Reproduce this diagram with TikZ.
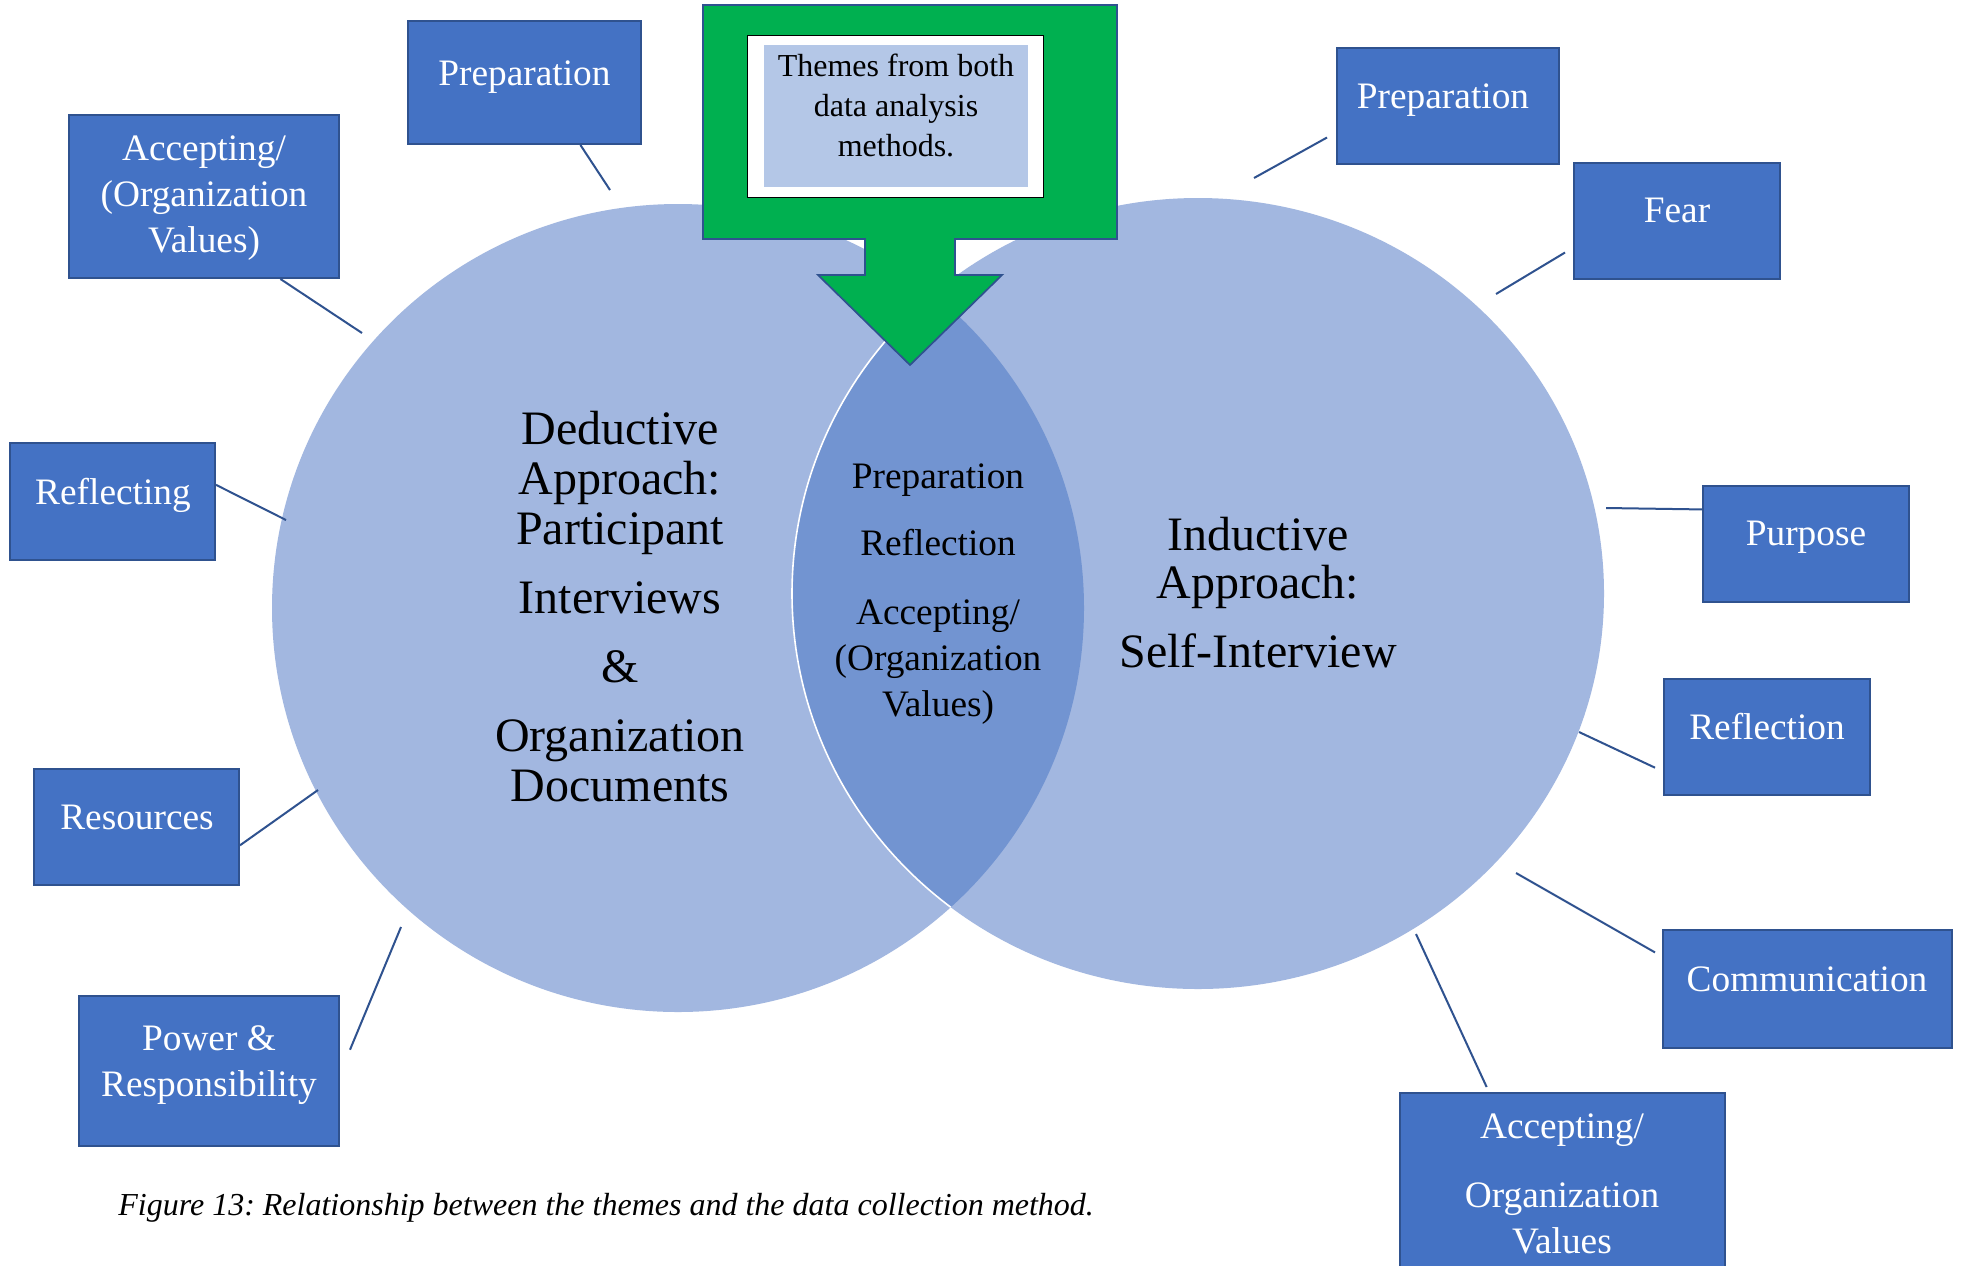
\documentclass[tikz,border=0pt]{standalone}
\usepackage{fontspec}
\setmainfont{Liberation Serif}
\usetikzlibrary{calc,fit}
\frenchspacing

\definecolor{circfill}{HTML}{A2B7E0}
\definecolor{lensfill}{HTML}{7294D1}
\definecolor{boxfill}{HTML}{4472C4}
\definecolor{boxline}{HTML}{2F528F}
\definecolor{arrowgreen}{HTML}{00B050}
\definecolor{notefill}{HTML}{B4C7E7}

\begin{document}
\begin{tikzpicture}[x=0.5pt,y=-0.5pt,
  themebox/.style={draw=boxline, line width=1pt, fill=boxfill, inner sep=0pt, rectangle},
  themetext/.style={text=white, font=\fontsize{18.67}{23}\selectfont, align=center, inner sep=0pt},
  link/.style={draw=boxline, line width=1pt},
  bigtext/.style={text=black, font=\fontsize{24}{25}\selectfont, align=center, inner sep=0pt},
  lenstext/.style={text=black, font=\fontsize{18.67}{23}\selectfont, align=center, inner sep=0pt},
]
\clip (0,0) rectangle (1963,1265);
\fill[white] (0,0) rectangle (1963,1265);

% two overlapping approach circles
\coordinate (dc) at (678,608);
\coordinate (ic) at (1198,593.5);
\fill[circfill] (dc) ellipse [x radius=406, y radius=404];
\fill[circfill] (ic) ellipse [x radius=406, y radius=395.5];
\begin{scope}
  \clip (dc) ellipse [x radius=406, y radius=404];
  \fill[lensfill] (ic) ellipse [x radius=406, y radius=395.5];
  \draw[white, line width=0.8pt] (ic) ellipse [x radius=406, y radius=395.5];
\end{scope}

% circle texts
\node[bigtext] (ded) at (620,607) {Deductive\\ Approach:\\ Participant\\[9.5pt] Interviews\\[9.5pt] \&\\[9.5pt] Organization\\ Documents};
\node[bigtext, font=\fontsize{24}{24}\selectfont] (ind) at (1258,593) {Inductive\\ Approach:\\[10.5pt] Self-Interview};
\node[lenstext] (common) at (938,594) {Preparation\\[10.5pt] Reflection\\[11.5pt] Accepting/\\ (Organization\\ Values)};

% theme boxes, left side
\node[themebox, fit={(408,21) (641,144)}] (b1) {};
\node[themetext] (t1) at (524.5,77) {Preparation};
\node[themebox, fit={(69,115) (339,278)}] (b2) {};
\node[themetext] (t2) at (204,198) {Accepting/\\ (Organization\\ Values)};
\node[themebox, fit={(10,443) (215,560)}] (b3) {};
\node[themetext] (t3) at (113,495) {Reflecting};
\node[themebox, fit={(34,769) (239,885)}] (b4) {};
\node[themetext] (t4) at (137,817) {Resources};
\node[themebox, fit={(79,996) (339,1146)}] (b5) {};
\node[themetext] (t5) at (209,1065) {Power \&\\ Responsibility};

% theme boxes, right side
\node[themebox, fit={(1337,48) (1559,164)}] (b6) {};
\node[themetext] (t6) at (1443,100) {Preparation};
\node[themebox, fit={(1574,163) (1780,279)}] (b7) {};
\node[themetext] (t7) at (1677,210) {Fear};
\node[themebox, fit={(1703,486) (1909,602)}] (b8) {};
\node[themetext] (t8) at (1806,537) {Purpose};
\node[themebox, fit={(1664,679) (1870,795)}] (b9) {};
\node[themetext] (t9) at (1767,726.5) {Reflection};
\node[themebox, fit={(1663,930) (1952,1048)}] (b10) {};
\node[themetext] (t10) at (1807,979) {Communication};
\node[themebox, fit={(1400,1093) (1725,1300)}] (b11) {};
\node[themetext] (t11) at (1562,1184) {Accepting/\\[11.5pt] Organization\\ Values};

% connectors from boxes towards the circles
\coordinate (e1) at (610,190);
\coordinate (e2) at (362,333);
\coordinate (e3) at (286,520);
\coordinate (e4) at (318,790);
\coordinate (e5) at (401,927);
\coordinate (e6) at (1254,178);
\coordinate (e7) at (1496,294);
\coordinate (e8) at (1606,508);
\coordinate (e9) at (1579,732);
\coordinate (e10) at (1516,873);
\coordinate (e11) at (1416,934);
\draw[link] ($(b1.south west)!0.738!(b1.south east)$) -- (e1);
\draw[link] ($(b2.south west)!0.781!(b2.south east)$) -- (e2);
\draw[link] ($(b3.north east)!0.36!(b3.south east)$) -- (e3);
\draw[link] ($(b4.north east)!0.655!(b4.south east)$) -- (e4);
\draw[link] ($(b5.north east)!0.36!(b5.south east)+(10,0)$) -- (e5);
\draw[link] ($(b6.north west)!0.767!(b6.south west)+(-9,0)$) -- (e6);
\draw[link] ($(b7.north west)!0.767!(b7.south west)+(-8,0)$) -- (e7);
\draw[link] ($(b8.north west)!0.207!(b8.south west)$) -- (e8);
\draw[link] ($(b9.north west)!0.76!(b9.south west)+(-8,0)$) -- (e9);
\draw[link] ($(b10.north west)!0.195!(b10.south west)+(-7,0)$) -- (e10);
\draw[link] ($(b11.north west)!0.268!(b11.north east)+(0,-5)$) -- (e11);

% green callout arrow pointing into the overlap
\draw[fill=arrowgreen, draw=boxline, line width=0.85pt, line join=miter]
  (703,5) -- (1117,5) -- (1117,239) -- (955,239) -- (955,275) -- (1002,275)
  -- (910,365) -- (818,275) -- (865,275) -- (865,239) -- (703,239) -- cycle;
\node[fit={(747,35) (1043,197)}, inner sep=0pt, draw=black, line width=0.5pt, fill=white] (note) {};
\node[fit={(764,45) (1028,187)}, inner sep=0pt, fill=notefill] (noteinner) {};
\node[text=black, font=\fontsize{16}{20}\selectfont, align=center, inner sep=0pt] (notetext) at (896,105) {Themes from both\\ data analysis\\ methods.};

% caption
\node[anchor=west, inner sep=0pt, font=\fontsize{16}{19}\selectfont\itshape] (cap) at (118,1208) {Figure 13: Relationship between the themes and the data collection method.};
\end{tikzpicture}
\end{document}
